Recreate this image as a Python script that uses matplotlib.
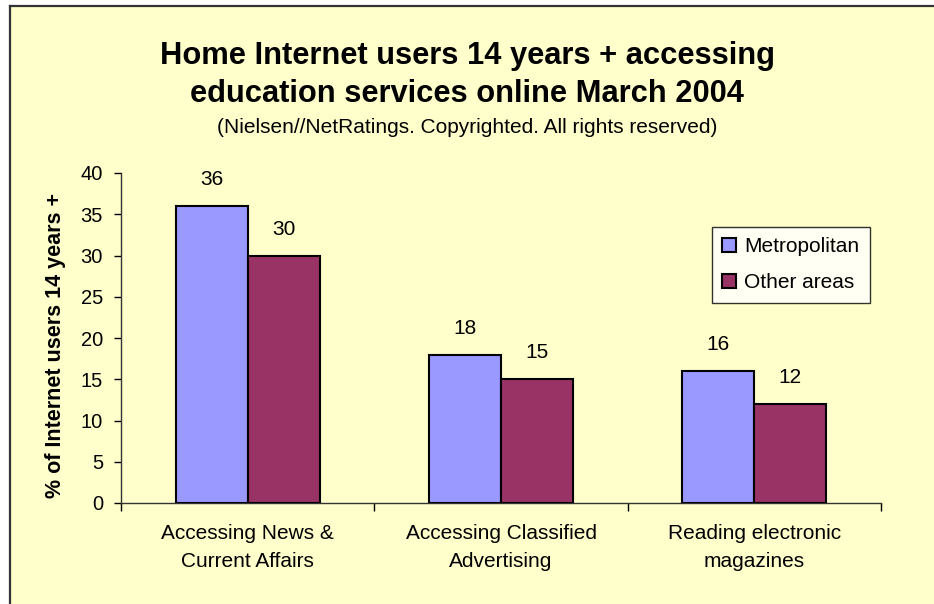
import matplotlib
matplotlib.use("Agg")
import matplotlib.pyplot as plt
from matplotlib.patches import Rectangle
from matplotlib.lines import Line2D
import numpy as np

categories = ["Accessing News &\nCurrent Affairs",
              "Accessing Classified\nAdvertising",
              "Reading electronic\nmagazines"]
metro = [36, 18, 16]
other = [30, 15, 12]
series_names = ["Metropolitan", "Other areas"]
yticks = [0, 5, 10, 15, 20, 25, 30, 35, 40]

plt.rcParams['font.family'] = ['Liberation Sans', 'DejaVu Sans']

W, H = 934, 604
fig = plt.figure(figsize=(W / 100, H / 100), dpi=100, facecolor='white')

def fx(px):
    return px / W

def fy(py):
    return 1 - py / H

# chart area: pale yellow, dark border along top and left
fig.patches.append(Rectangle((fx(10), 0), 1 - fx(10), fy(6), transform=fig.transFigure,
                             facecolor='#FFFFCC', edgecolor='none', zorder=-10))
fig.lines.append(Line2D([fx(10), 1], [fy(6), fy(6)], transform=fig.transFigure,
                        color='#333333', linewidth=1.6))
fig.lines.append(Line2D([fx(10), fx(10)], [fy(6), 0], transform=fig.transFigure,
                        color='#333333', linewidth=1.6))

L, R, B, T = 121, 881, 503, 173
ax = fig.add_axes([fx(L), fy(B), (R - L) / W, (B - T) / H])
ax.set_zorder(5)
ax.set_facecolor('none')

x = np.arange(len(categories))
w = 0.284
b1 = ax.bar(x - w / 2, metro, w, color='#9999FF', edgecolor='black', linewidth=1.5,
            label=series_names[0], zorder=3)
b2 = ax.bar(x + w / 2, other, w, color='#993366', edgecolor='black', linewidth=1.5,
            label=series_names[1], zorder=3)

for bars, vals in ((b1, metro), (b2, other)):
    for rect, v in zip(bars, vals):
        ax.annotate(str(v), (rect.get_x() + rect.get_width() / 2, v),
                    xytext=(0, 15), textcoords='offset points',
                    ha='center', va='baseline', fontsize=15)

ax.set_xlim(-0.5, len(categories) - 0.5)
ax.set_ylim(0, 40)
ax.set_yticks(yticks)
ax.tick_params(axis='y', labelsize=14.5, length=5, width=1, pad=8, colors='black')

# boundary ticks between categories, labels centred under each group
ax.set_xticks(np.arange(len(categories) + 1) - 0.5)
ax.set_xticklabels([])
ax.tick_params(axis='x', which='major', length=6, width=1)
ax.set_xticks(x, minor=True)
ax.set_xticklabels(categories, minor=True, fontsize=15, linespacing=1.6)
ax.tick_params(axis='x', which='minor', length=0, pad=15)

for s in ('top', 'right'):
    ax.spines[s].set_visible(False)
for s in ('left', 'bottom'):
    ax.spines[s].set_color('#333333')
    ax.spines[s].set_linewidth(1)

fig.text(fx(56), fy(345), '% of Internet users 14 years +', rotation=90,
         ha='center', va='center', fontsize=15.5, fontweight='bold')

leg = ax.legend(loc='upper left',
                bbox_to_anchor=((712 - L) / (R - L), (B - 227) / (B - T)),
                frameon=True, fancybox=False, fontsize=15, handlelength=0.63,
                handleheight=0.63, handletextpad=0.43, labelspacing=0.82,
                borderpad=0.5, borderaxespad=0)
leg.get_frame().set_edgecolor('black')
leg.get_frame().set_facecolor('white')
leg.get_frame().set_linewidth(1)

fig.text(0.5, fy(64), 'Home Internet users 14 years + accessing', ha='center',
         va='baseline', fontsize=22.2, fontweight='bold')
fig.text(0.5, fy(102), 'education services online March 2004', ha='center',
         va='baseline', fontsize=22.2, fontweight='bold')
fig.text(0.5, fy(133), '(Nielsen//NetRatings. Copyrighted. All rights reserved)',
         ha='center', va='baseline', fontsize=15)

fig.savefig('out.png', dpi=100, facecolor=fig.get_facecolor())
